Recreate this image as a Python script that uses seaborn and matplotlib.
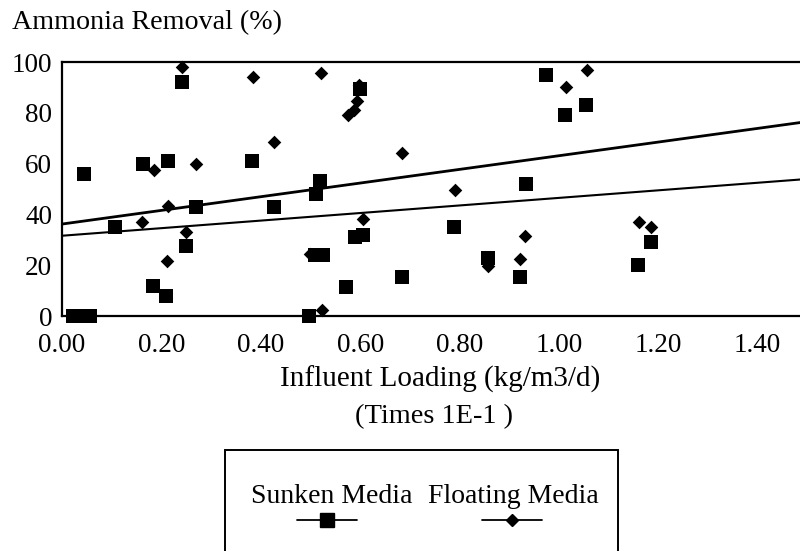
import numpy as np
import pandas as pd
import seaborn as sns
import matplotlib.pyplot as plt
from matplotlib.lines import Line2D
from matplotlib.patches import Rectangle
from matplotlib.ticker import MultipleLocator, FormatStrFormatter

# Sunken media: influent loading (x 1E-1 kg/m3/d) vs ammonia removal (%)
sunken_load = [0.023, 0.040, 0.057, 0.045, 0.107, 0.163, 0.183, 0.213, 0.210, 0.242,
               0.249, 0.269, 0.383, 0.427, 0.511, 0.519, 0.497, 0.510, 0.525, 0.571,
               0.589, 0.605, 0.599, 0.685, 0.973, 1.013, 1.055, 0.934, 0.789, 0.858,
               0.922, 1.160, 1.185]
sunken_removal = [0, 0, 0, 56, 35, 60, 12, 61, 8, 92,
                  27.5, 43, 61, 43, 48, 53, 0, 24, 24, 11.5,
                  31, 32, 89.5, 15.5, 95, 79, 83, 52, 35, 23,
                  15.5, 20, 29]

# Floating media
floating_load = [0.242, 0.384, 0.521, 0.598, 0.593, 0.587, 0.575, 0.427, 0.270, 0.185,
                 0.213, 0.161, 0.249, 0.212, 0.606, 0.500, 0.524, 0.685, 1.056, 1.015,
                 0.791, 0.932, 0.922, 0.858, 1.161, 1.185]
floating_removal = [98, 94, 95.5, 91, 84.5, 81, 79, 68.5, 60, 57.5,
                    43.5, 37, 33, 21.5, 38, 24.5, 2.5, 64, 97, 90,
                    49.5, 31.5, 22.5, 19.5, 37, 35]

# Linear trend lines (intercept, slope)
sunken_fit = (31.6, 14.9)
floating_fit = (36.2, 26.9)

series_names = ["Sunken Media", "Floating Media"]
x_ticks = [0.0, 0.2, 0.4, 0.6, 0.8, 1.0, 1.2, 1.4]
y_ticks = [0, 20, 40, 60, 80, 100]

W, H = 800, 551
sns.set_style("white")
plt.rcParams["font.family"] = ["Liberation Serif", "DejaVu Serif"]
plt.rcParams["mathtext.default"] = "regular"

fig = plt.figure(figsize=(W / 100, H / 100), dpi=100)


def fx(px):
    return px / W


def fy(py):
    return 1 - py / H


ax_left, ax_right, ax_top, ax_bottom = 62, 800, 62, 316
ax = fig.add_axes([fx(ax_left), fy(ax_bottom), fx(ax_right - ax_left), fy(ax_top) - fy(ax_bottom)])

sunken = pd.DataFrame({"load": sunken_load, "removal": sunken_removal})
floating = pd.DataFrame({"load": floating_load, "removal": floating_removal})

xmax = 1.40 * (ax_right - ax_left) / (757.7 - ax_left)

# trend lines across the full loading range
xs = np.array([0.0, xmax])
for (b0, b1), lw in [(sunken_fit, 1.5), (floating_fit, 2.0)]:
    sns.lineplot(x=xs, y=b0 + b1 * xs, ax=ax, color="black", lw=lw, zorder=2)

sns.scatterplot(data=floating, x="load", y="removal", ax=ax, marker="D", s=48,
                color="black", edgecolor="black", linewidth=0, zorder=3, clip_on=False)
sns.scatterplot(data=sunken, x="load", y="removal", ax=ax, marker="s", s=105,
                color="black", edgecolor="black", linewidth=0, zorder=4, clip_on=False)

ax.set_xlim(0, xmax)
ax.set_ylim(0, 100)
ax.set_xticks(x_ticks)
ax.set_yticks(y_ticks)
ax.xaxis.set_major_formatter(FormatStrFormatter("%.2f"))
ax.xaxis.set_minor_locator(MultipleLocator(0.1))
ax.yaxis.set_minor_locator(MultipleLocator(10))
ax.set_xlabel("")
ax.set_ylabel("")

for side in ["left", "bottom", "top"]:
    ax.spines[side].set_linewidth(1.6)
    ax.spines[side].set_color("black")
ax.spines["right"].set_visible(False)

ax.tick_params(axis="both", which="both", direction="in", color="black",
               labelsize=19.5, labelcolor="black")
ax.tick_params(axis="x", which="major", length=6.5, width=1.2, pad=12)
ax.tick_params(axis="x", which="minor", length=3, width=1.0)
ax.tick_params(axis="y", which="major", length=8, width=1.2, pad=7)
ax.tick_params(axis="y", which="minor", length=4.3, width=1.0)
ax.tick_params(top=False, right=False, which="both")

# axis titles
fig.text(fx(12), fy(29), "Ammonia Removal (%)", fontsize=20.2, ha="left",
         va="baseline", color="black")
fig.text(fx(440), fy(387), "Influent Loading (kg/m3/d)", fontsize=21,
         ha="center", va="baseline", color="black")
fig.text(fx(434), fy(423), "(Times 1E-1 )", fontsize=20.4,
         ha="center", va="baseline", color="black")

# legend box (runs past the lower edge)
fig.patches.append(Rectangle((fx(225), fy(560)), fx(618 - 225), fy(450) - fy(560),
                             transform=fig.transFigure, fill=False,
                             edgecolor="black", linewidth=1.4))
for name, cx, tx, mk, ms in [(series_names[0], 327, 332, "s", 9.5),
                             (series_names[1], 512, 513, "D", 5.8)]:
    fig.text(fx(tx), fy(503), name, fontsize=20, ha="center", va="baseline",
             color="black")
    fig.add_artist(Line2D([fx(cx - 30), fx(cx + 30)], [fy(520), fy(520)],
                          transform=fig.transFigure, color="black", lw=1.3))
    fig.add_artist(Line2D([fx(cx)], [fy(520)], transform=fig.transFigure,
                          marker=mk, markersize=ms, color="black", lw=0))

fig.savefig("out.png", dpi=100)
